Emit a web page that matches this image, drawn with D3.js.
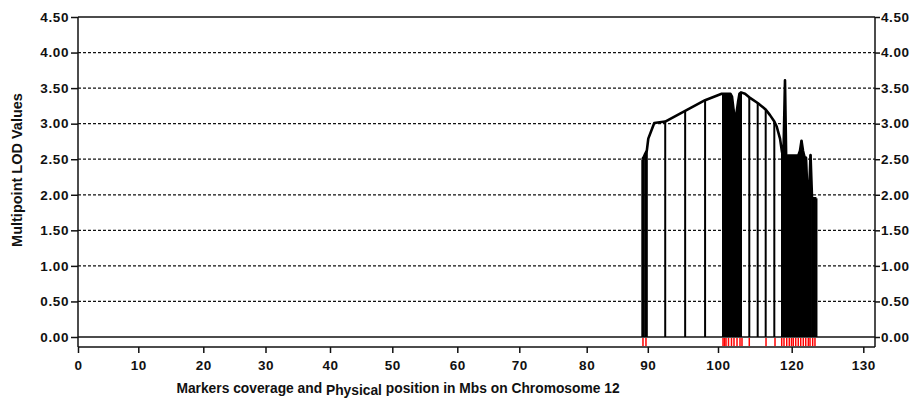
<!DOCTYPE html>
<html>
<head>
<meta charset="utf-8">
<script src="https://cdnjs.cloudflare.com/ajax/libs/d3/7.8.5/d3.min.js"></script>
<style>
  body { margin: 0; background: #fff; }
  svg text { font-family: "Liberation Sans", Arial, sans-serif; font-weight: bold; fill: #111; }
</style>
</head>
<body>
<div id="chart"></div>
<script>

// tick values
var yTicks = [0, 0.5, 1, 1.5, 2, 2.5, 3, 3.5, 4, 4.5];
var xTicks = [0, 10, 20, 30, 40, 50, 60, 70, 80, 90, 100, 120, 130];

// LOD profile: position (Mb), LOD value, 1 = drawn with a drop line
var lodPos = [89.10, 89.34, 89.59, 89.84, 90.07, 90.92, 92.48, 95.32, 98.16, 101.00,
    101.36, 101.76, 102.17, 102.58, 102.99, 103.39, 103.80, 104.21, 104.61, 105.02, 105.43, 105.83, 106.24,
    107.33, 108.49, 110.77, 112.94, 114.11, 115.28, 115.93, 116.83,
    117.37, 117.77, 118.18, 118.59, 118.99, 119.40, 119.81, 120.11, 120.32, 120.53, 120.74, 120.95,
    121.16, 121.37, 121.58, 121.79, 122.00, 122.21, 122.42, 122.63, 122.84, 123.04, 123.25, 123.46];
var lodVal = [2.50, 2.53, 2.58, 2.62, 2.79, 3.01, 3.03, 3.18, 3.33, 3.42,
    3.42, 3.42, 3.42, 3.42, 3.42, 3.42, 3.38, 3.20, 3.03, 3.15, 3.30, 3.42, 3.44,
    3.42, 3.37, 3.29, 3.20, 3.12, 3.03, 2.96, 2.79,
    2.60, 2.58, 3.61, 2.23, 2.55, 2.55, 2.55, 2.55, 2.55, 2.55, 2.55, 2.56,
    2.62, 2.76, 2.62, 2.53, 2.52, 2.00, 2.00, 2.56, 1.95, 1.95, 1.95, 1.95];
var lodStick = [1, 1, 1, 1, 0, 0, 1, 1, 1, 0,
    1, 1, 1, 1, 1, 1, 1, 1, 1, 1, 1, 1, 1,
    0, 1, 1, 1, 0, 1, 0, 0,
    1, 1, 1, 1, 1, 1, 1, 1, 1, 1, 1, 1,
    1, 1, 1, 1, 1, 1, 1, 1, 1, 1, 1, 1];

// marker coverage (Mb)
var markerPos = [89.21, 89.70,
    101.36, 101.76, 102.17, 102.85, 103.66, 104.34, 105.16, 105.97, 106.51,
    108.49, 113.03, 115.47,
    117.29, 117.91, 118.65, 119.35, 119.95, 120.22, 120.56, 120.92, 121.26, 121.62,
    121.96, 122.32, 122.56, 122.93, 123.25];

var width = 917, height = 400;
var margin = {top: 17, left: 78, right: 875, zero: 337, bottom: 347};

var svg = d3.select("#chart").append("svg")
    .attr("width", width)
    .attr("height", height);

var y = d3.scaleLinear()
    .domain([0, 4.5])
    .range([margin.zero, margin.top]);

// the printed axis is not evenly spaced, so map tick by tick
var x = d3.scaleLinear()
    .domain(xTicks)
    .range([78, 138.3, 203.3, 265.5, 330, 392.3, 457.3, 519.3, 586.7, 647.8, 718, 791.7, 863.3]);

var points = lodPos.map(function(p, i){ return {pos: p, lod: lodVal[i], stick: lodStick[i]}; });

// dashed grid
svg.append("g")
    .selectAll("line")
    .data(yTicks.filter(function(d){ return d > 0 && d < 4.5; }))
    .enter().append("line")
    .attr("x1", margin.left)
    .attr("x2", margin.right)
    .attr("y1", function(d){ return y(d); })
    .attr("y2", function(d){ return y(d); })
    .attr("stroke", "#111")
    .attr("stroke-width", 1.2)
    .attr("stroke-dasharray", "3,2");

// frame: top, zero line, bottom axis, sides
svg.append("line").attr("x1", margin.left).attr("x2", margin.right)
    .attr("y1", y(4.5)).attr("y2", y(4.5)).attr("stroke", "#111").attr("stroke-width", 1.5);
svg.append("line").attr("x1", margin.left).attr("x2", margin.right)
    .attr("y1", y(0)).attr("y2", y(0)).attr("stroke", "#111").attr("stroke-width", 1.5);
svg.append("line").attr("x1", margin.left).attr("x2", margin.right)
    .attr("y1", margin.bottom).attr("y2", margin.bottom).attr("stroke", "#111").attr("stroke-width", 1.5);
svg.append("line").attr("x1", margin.left).attr("x2", margin.left)
    .attr("y1", margin.top).attr("y2", margin.bottom).attr("stroke", "#111").attr("stroke-width", 1.5);
svg.append("line").attr("x1", margin.right).attr("x2", margin.right)
    .attr("y1", margin.top).attr("y2", margin.bottom).attr("stroke", "#111").attr("stroke-width", 1.5);

// axes
var fmt = d3.format(".2f");

var yLeft = svg.append("g")
    .attr("transform", "translate(" + margin.left + ",0)")
    .call(d3.axisLeft(y).tickValues(yTicks).tickFormat(fmt).tickSize(7).tickPadding(2));

var yRight = svg.append("g")
    .attr("transform", "translate(" + margin.right + ",0)")
    .call(d3.axisRight(y).tickValues(yTicks).tickFormat(fmt).tickSize(5).tickPadding(1));

var xAxis = svg.append("g")
    .attr("transform", "translate(0," + margin.bottom + ")")
    .call(d3.axisBottom(x).tickValues(xTicks).tickFormat(d3.format("d")).tickSize(6).tickPadding(7));

[yLeft, yRight, xAxis].forEach(function(a){
    a.select(".domain").remove();
    a.selectAll(".tick line").attr("stroke", "#111").attr("stroke-width", 1.5);
    a.selectAll("text")
        .style("font-family", "'Liberation Sans', Arial, sans-serif")
        .style("font-weight", "bold")
        .style("font-size", "13.5px")
        .style("letter-spacing", "0.6px")
        .attr("fill", "#111");
});

// marker coverage strip
svg.append("g")
    .selectAll("line")
    .data(markerPos)
    .enter().append("line")
    .attr("x1", function(d){ return x(d); })
    .attr("x2", function(d){ return x(d); })
    .attr("y1", margin.zero + 1)
    .attr("y2", margin.bottom - 1)
    .attr("stroke", "#f00")
    .attr("stroke-width", 1.5);

// drop lines
svg.append("g")
    .selectAll("line")
    .data(points.filter(function(d){ return d.stick; }))
    .enter().append("line")
    .attr("x1", function(d){ return x(d.pos); })
    .attr("x2", function(d){ return x(d.pos); })
    .attr("y1", y(0))
    .attr("y2", function(d){ return y(d.lod); })
    .attr("stroke", "#000")
    .attr("stroke-width", 2);

// LOD profile
var line = d3.line()
    .x(function(d){ return x(d.pos); })
    .y(function(d){ return y(d.lod); });

svg.append("path")
    .datum(points)
    .attr("d", line)
    .attr("fill", "none")
    .attr("stroke", "#000")
    .attr("stroke-width", 2.6)
    .attr("stroke-linejoin", "round");

// titles
svg.append("text")
    .attr("transform", "translate(22,170) rotate(-90)")
    .attr("text-anchor", "middle")
    .style("font-size", "14.5px")
    .text("Multipoint LOD Values");

var xt = svg.append("text")
    .attr("x", 398)
    .attr("y", 393)
    .attr("text-anchor", "middle")
    .style("font-size", "13.8px");
xt.append("tspan").text("Markers coverage and ");
xt.append("tspan").attr("dy", 1.5).text("Physical");
xt.append("tspan").attr("dy", -1.5).text(" position in Mbs on Chromosome 12");

</script>
</body>
</html>
